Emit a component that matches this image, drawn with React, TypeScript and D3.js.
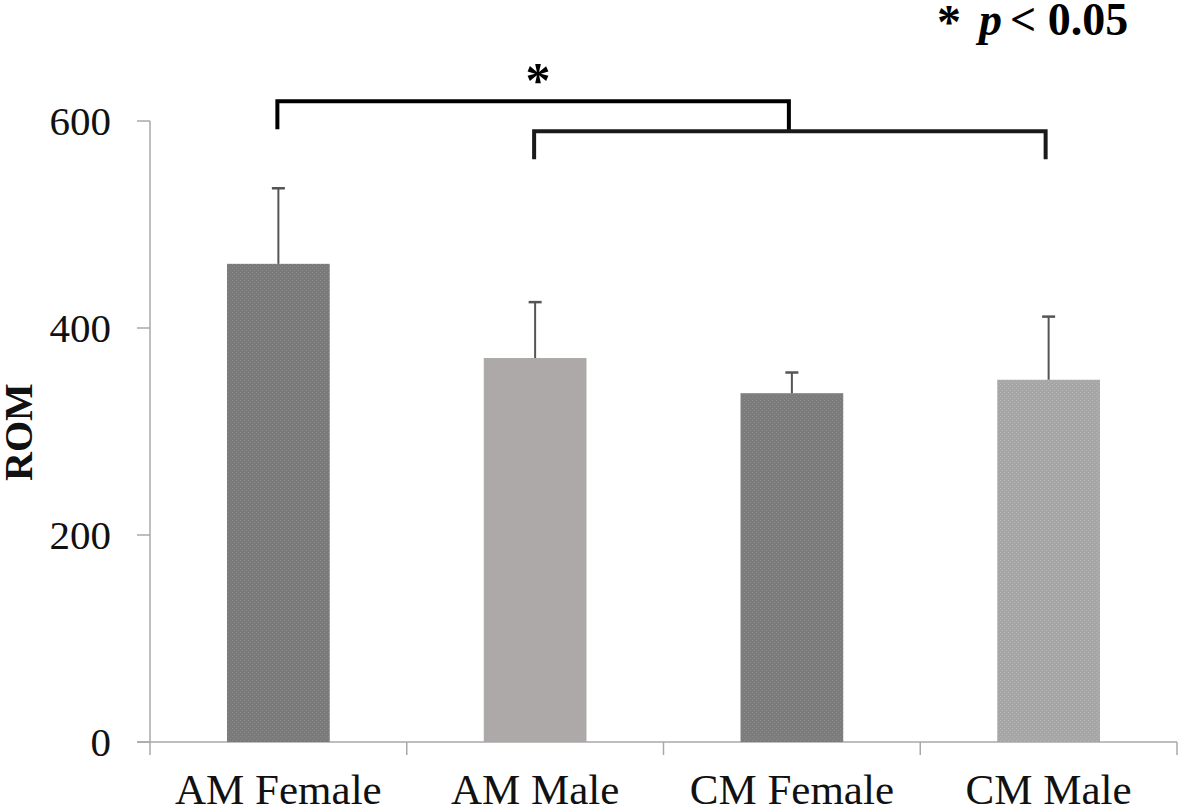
import React from "react";
import * as d3 from "d3";

const categories = ["AM Female", "AM Male", "CM Female", "CM Male"];
const means = [462, 371, 337, 350];
const errors = [73, 54, 20, 61];
const yTicks = [0, 200, 400, 600];
const barColors = ["#7a7a7a", "#aca8a7", "#7c7c7c", "#a6a6a6"];
const barTexture = ["#8a8a8a", "#b4b0af", "#8c8c8c", "#b6b6b6"];
// significance brackets between category indices (values in data units)
const brackets = [
  { from: 0, to: 2, y: 619, legL: 592, legR: 589 },
  { from: 1, to: 3, y: 590, legL: 563, legR: 563 },
];

const W = 1181;
const H = 812;
const FONT = "'Liberation Serif', 'Times New Roman', serif";

export default function App() {
  const x = d3
    .scaleBand<string>()
    .domain(categories)
    .range([150, 1177])
    .paddingInner(0.6)
    .paddingOuter(0.3);
  const y = d3.scaleLinear().domain([0, 600]).range([742, 121]);
  const step = x.step();
  const bw = x.bandwidth();
  const cx = (i: number) => (x(categories[i]) as number) + bw / 2;

  return (
    <svg
      width={W}
      height={H}
      style={{ position: "absolute", left: 0, top: 0, background: "#fff" }}
    >
      <defs>
        {barColors.map((c, i) => (
          <pattern
            key={i}
            id={`tex${i}`}
            width={4}
            height={4}
            patternUnits="userSpaceOnUse"
          >
            <rect width={4} height={4} fill={c} />
            <rect x={0} y={0} width={1} height={1} fill={barTexture[i]} />
            <rect x={2} y={2} width={1} height={1} fill={barTexture[i]} />
          </pattern>
        ))}
      </defs>

      {/* y axis */}
      <line x1={150} x2={150} y1={y(600)} y2={y(0)} stroke="#a8a8a8" strokeWidth={1.5} />
      {yTicks.map((t) => (
        <g key={t}>
          <line x1={137} x2={150} y1={y(t)} y2={y(t)} stroke="#a8a8a8" strokeWidth={1.5} />
          <text
            x={111}
            y={y(t)}
            textAnchor="end"
            dominantBaseline="central"
            fontFamily={FONT}
            fontSize={41}
            fill="#111"
          >
            {t}
          </text>
        </g>
      ))}

      {/* x axis */}
      <line x1={137} x2={1177} y1={y(0)} y2={y(0)} stroke="#a8a8a8" strokeWidth={1.5} />
      {d3.range(categories.length + 1).map((k) => (
        <line
          key={k}
          x1={150 + k * step}
          x2={150 + k * step}
          y1={y(0)}
          y2={y(0) + 13}
          stroke="#a8a8a8"
          strokeWidth={1.5}
        />
      ))}

      {/* bars */}
      {categories.map((c, i) => (
        <rect
          key={c}
          x={x(c)}
          y={y(means[i])}
          width={bw}
          height={y(0) - y(means[i])}
          fill={`url(#tex${i})`}
        />
      ))}

      {/* error bars */}
      {categories.map((c, i) => (
        <g key={c} stroke="#555" strokeWidth={2}>
          <line x1={cx(i)} x2={cx(i)} y1={y(means[i])} y2={y(means[i] + errors[i])} />
          <line
            x1={cx(i) - 6.5}
            x2={cx(i) + 6.5}
            y1={y(means[i] + errors[i])}
            y2={y(means[i] + errors[i])}
            strokeWidth={2.5}
          />
        </g>
      ))}

      {/* category labels */}
      {categories.map((c, i) => (
        <text
          key={c}
          x={cx(i)}
          y={804}
          textAnchor="middle"
          fontFamily={FONT}
          fontSize={43}
          fill="#111"
        >
          {c}
        </text>
      ))}

      {/* y label */}
      <text
        transform={`translate(32, 432) rotate(-90)`}
        textAnchor="middle"
        fontFamily={FONT}
        fontWeight="bold"
        fontSize={40}
        fill="#111"
      >
        ROM
      </text>

      {/* brackets */}
      {brackets.map((b, k) => (
        <path
          key={k}
          d={`M${cx(b.from) - 1},${y(b.legL)} V${y(b.y)} H${cx(b.to) - 3} V${y(b.legR)}`}
          fill="none"
          stroke={k === 0 ? "#000" : "#1a1a1a"}
          strokeWidth={4}
        />
      ))}
      <text
        x={538}
        y={97}
        textAnchor="middle"
        fontFamily={FONT}
        fontWeight="bold"
        fontSize={50}
        fill="#000"
      >
        *
      </text>

      {/* p-value note */}
      <g fontFamily={FONT} fontWeight="bold" fill="#000">
        <text x={937} y={38} fontSize={48}>*</text>
        <text x={979} y={35} fontSize={46} fontStyle="italic">p</text>
        <text x={1010} y={35} fontSize={46}>&lt; 0.05</text>
      </g>
    </svg>
  );
}
